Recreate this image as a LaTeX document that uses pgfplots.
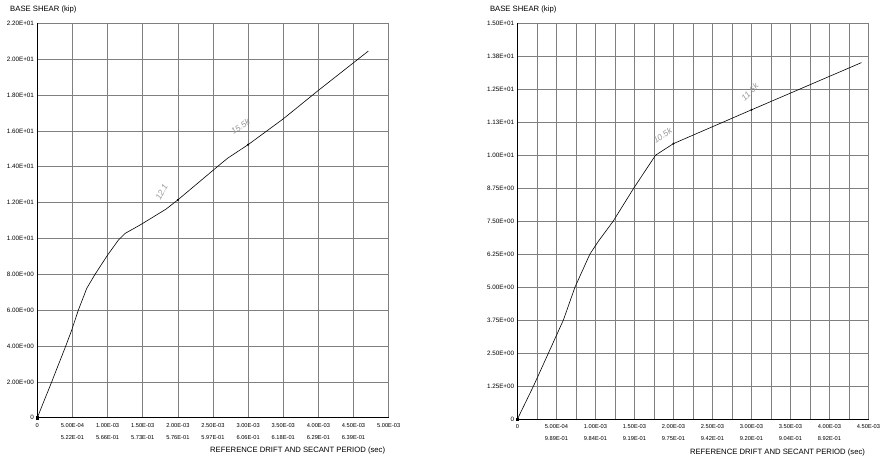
\documentclass[border=0pt]{standalone}
\usepackage{pgfplots}
\pgfplotsset{compat=1.18}
\usepackage{fontspec}
\setmainfont{Liberation Sans}
\begin{document}
\begin{tikzpicture}
\useasboundingbox (0,0) rectangle (883pt,-462pt);
\pgfplotsset{every axis/.append style={
  scale only axis, axis x line=bottom, axis y line=left,
  axis line style={-, black, line width=0.7pt},
  grid=both,
  major grid style={black!50, line width=0.45pt},
  minor grid style={black!50, line width=0.45pt},
  tick style={draw=none}, clip=false, scaled ticks=false,
  xmin=0, ymin=0,
  xticklabel style={font=\fontsize{5.7}{11.5}\selectfont, align=center, inner sep=1pt, yshift=-2.5pt},
  yticklabel style={font=\fontsize{6.3}{7}\selectfont, inner sep=1pt},
}}
% ---------------- left chart ----------------
\begin{axis}[at={(37.3pt,-417.7pt)}, anchor=south west,
  width=351.4pt, height=394.4pt, xmax=0.005, ymax=22,
  xtick={0,0.0005,0.001,0.0015,0.002,0.0025,0.003,0.0035,0.004,0.0045,0.005},
  xticklabels={0,{5.00E-04\\5.22E-01},{1.00E-03\\5.66E-01},{1.50E-03\\5.73E-01},{2.00E-03\\5.76E-01},{2.50E-03\\5.97E-01},{3.00E-03\\6.06E-01},{3.50E-03\\6.18E-01},{4.00E-03\\6.29E-01},{4.50E-03\\6.39E-01},5.00E-03},
  ytick={0,2,4,6,8,10,12,14,16,18,20,22},
  yticklabels={0,2.00E+00,4.00E+00,6.00E+00,8.00E+00,1.00E+01,1.20E+01,1.40E+01,1.60E+01,1.80E+01,2.00E+01,2.20E+01},
]
\addplot[black, line width=0.6pt] coordinates {
 (0,0) (0.000205,2) (0.000405,4) (0.00049,4.89) (0.000584,6) (0.000704,7.22) (0.000822,8)
 (0.001,9.07) (0.001154,9.91) (0.001249,10.28) (0.001463,10.75) (0.00183,11.63)
 (0.002,12.15) (0.00258,14.06) (0.00271,14.48) (0.003,15.23) (0.0035,16.67)
 (0.004,18.26) (0.00471,20.45)};
\addplot[only marks, mark=*, mark size=0.8pt, black] coordinates {(0.002,12.15) (0.003,15.23)};
\addplot[only marks, mark=square*, mark size=1.1pt, black] coordinates {(0,0)};
\node[rotate=62, text=black!40, font=\itshape\fontsize{8.5}{8.5}\selectfont] at (axis cs:0.00177,12.6) {12.1};
\node[rotate=35, text=black!40, font=\itshape\fontsize{8.5}{8.5}\selectfont] at (axis cs:0.00289,16.25) {15.5k};
\node[anchor=base west, xshift=-30.6pt, yshift=11.5pt, font=\fontsize{7.7}{8}\selectfont] at (rel axis cs:0,1) {BASE SHEAR (kip)};
\node[anchor=base east, yshift=-34.8pt, font=\fontsize{7.7}{8}\selectfont] at (rel axis cs:1,0) {REFERENCE DRIFT AND SECANT PERIOD (sec)};
\end{axis}
% ---------------- right chart ----------------
\begin{axis}[at={(517.5pt,-419pt)}, anchor=south west,
  width=351pt, height=395.7pt, xmax=0.0045, ymax=15,
  xtick={0,0.0005,0.001,0.0015,0.002,0.0025,0.003,0.0035,0.004,0.0045},
  minor xtick={0.00025,0.00075,0.00125,0.00175,0.00225,0.00275,0.00325,0.00375,0.00425},
  xticklabels={0,{5.00E-04\\9.89E-01},{1.00E-03\\9.84E-01},{1.50E-03\\9.19E-01},{2.00E-03\\9.75E-01},{2.50E-03\\9.42E-01},{3.00E-03\\9.20E-01},{3.50E-03\\9.04E-01},{4.00E-03\\8.92E-01},4.50E-03},
  ytick={0,1.25,2.5,3.75,5,6.25,7.5,8.75,10,11.25,12.5,13.75,15},
  yticklabels={0,1.25E+00,2.50E+00,3.75E+00,5.00E+00,6.25E+00,7.50E+00,8.75E+00,1.00E+01,1.13E+01,1.25E+01,1.38E+01,1.50E+01},
]
\addplot[black, line width=0.6pt] coordinates {
 (0,0) (0.000213,1.3) (0.000588,3.75) (0.000737,5) (0.000928,6.25) (0.001035,6.73)
 (0.001227,7.5) (0.00149,8.75) (0.00177,10) (0.002,10.44) (0.003,11.72) (0.00441,13.51)};
\addplot[only marks, mark=*, mark size=0.8pt, black] coordinates {(0.002,10.44) (0.003,11.72)};
\addplot[only marks, mark=square*, mark size=1.1pt, black] coordinates {(0,0)};
\node[rotate=35, text=black!40, font=\itshape\fontsize{8.5}{8.5}\selectfont] at (axis cs:0.00186,10.75) {10.5k};
\node[rotate=45, text=black!40, font=\itshape\fontsize{8.5}{8.5}\selectfont] at (axis cs:0.00298,12.4) {11.6k};
\node[anchor=base west, xshift=-31pt, yshift=11.5pt, font=\fontsize{7.7}{8}\selectfont] at (rel axis cs:0,1) {BASE SHEAR (kip)};
\node[anchor=base east, yshift=-35pt, font=\fontsize{7.7}{8}\selectfont] at (rel axis cs:1,0) {REFERENCE DRIFT AND SECANT PERIOD (sec)};
\end{axis}
\end{tikzpicture}
\end{document}
